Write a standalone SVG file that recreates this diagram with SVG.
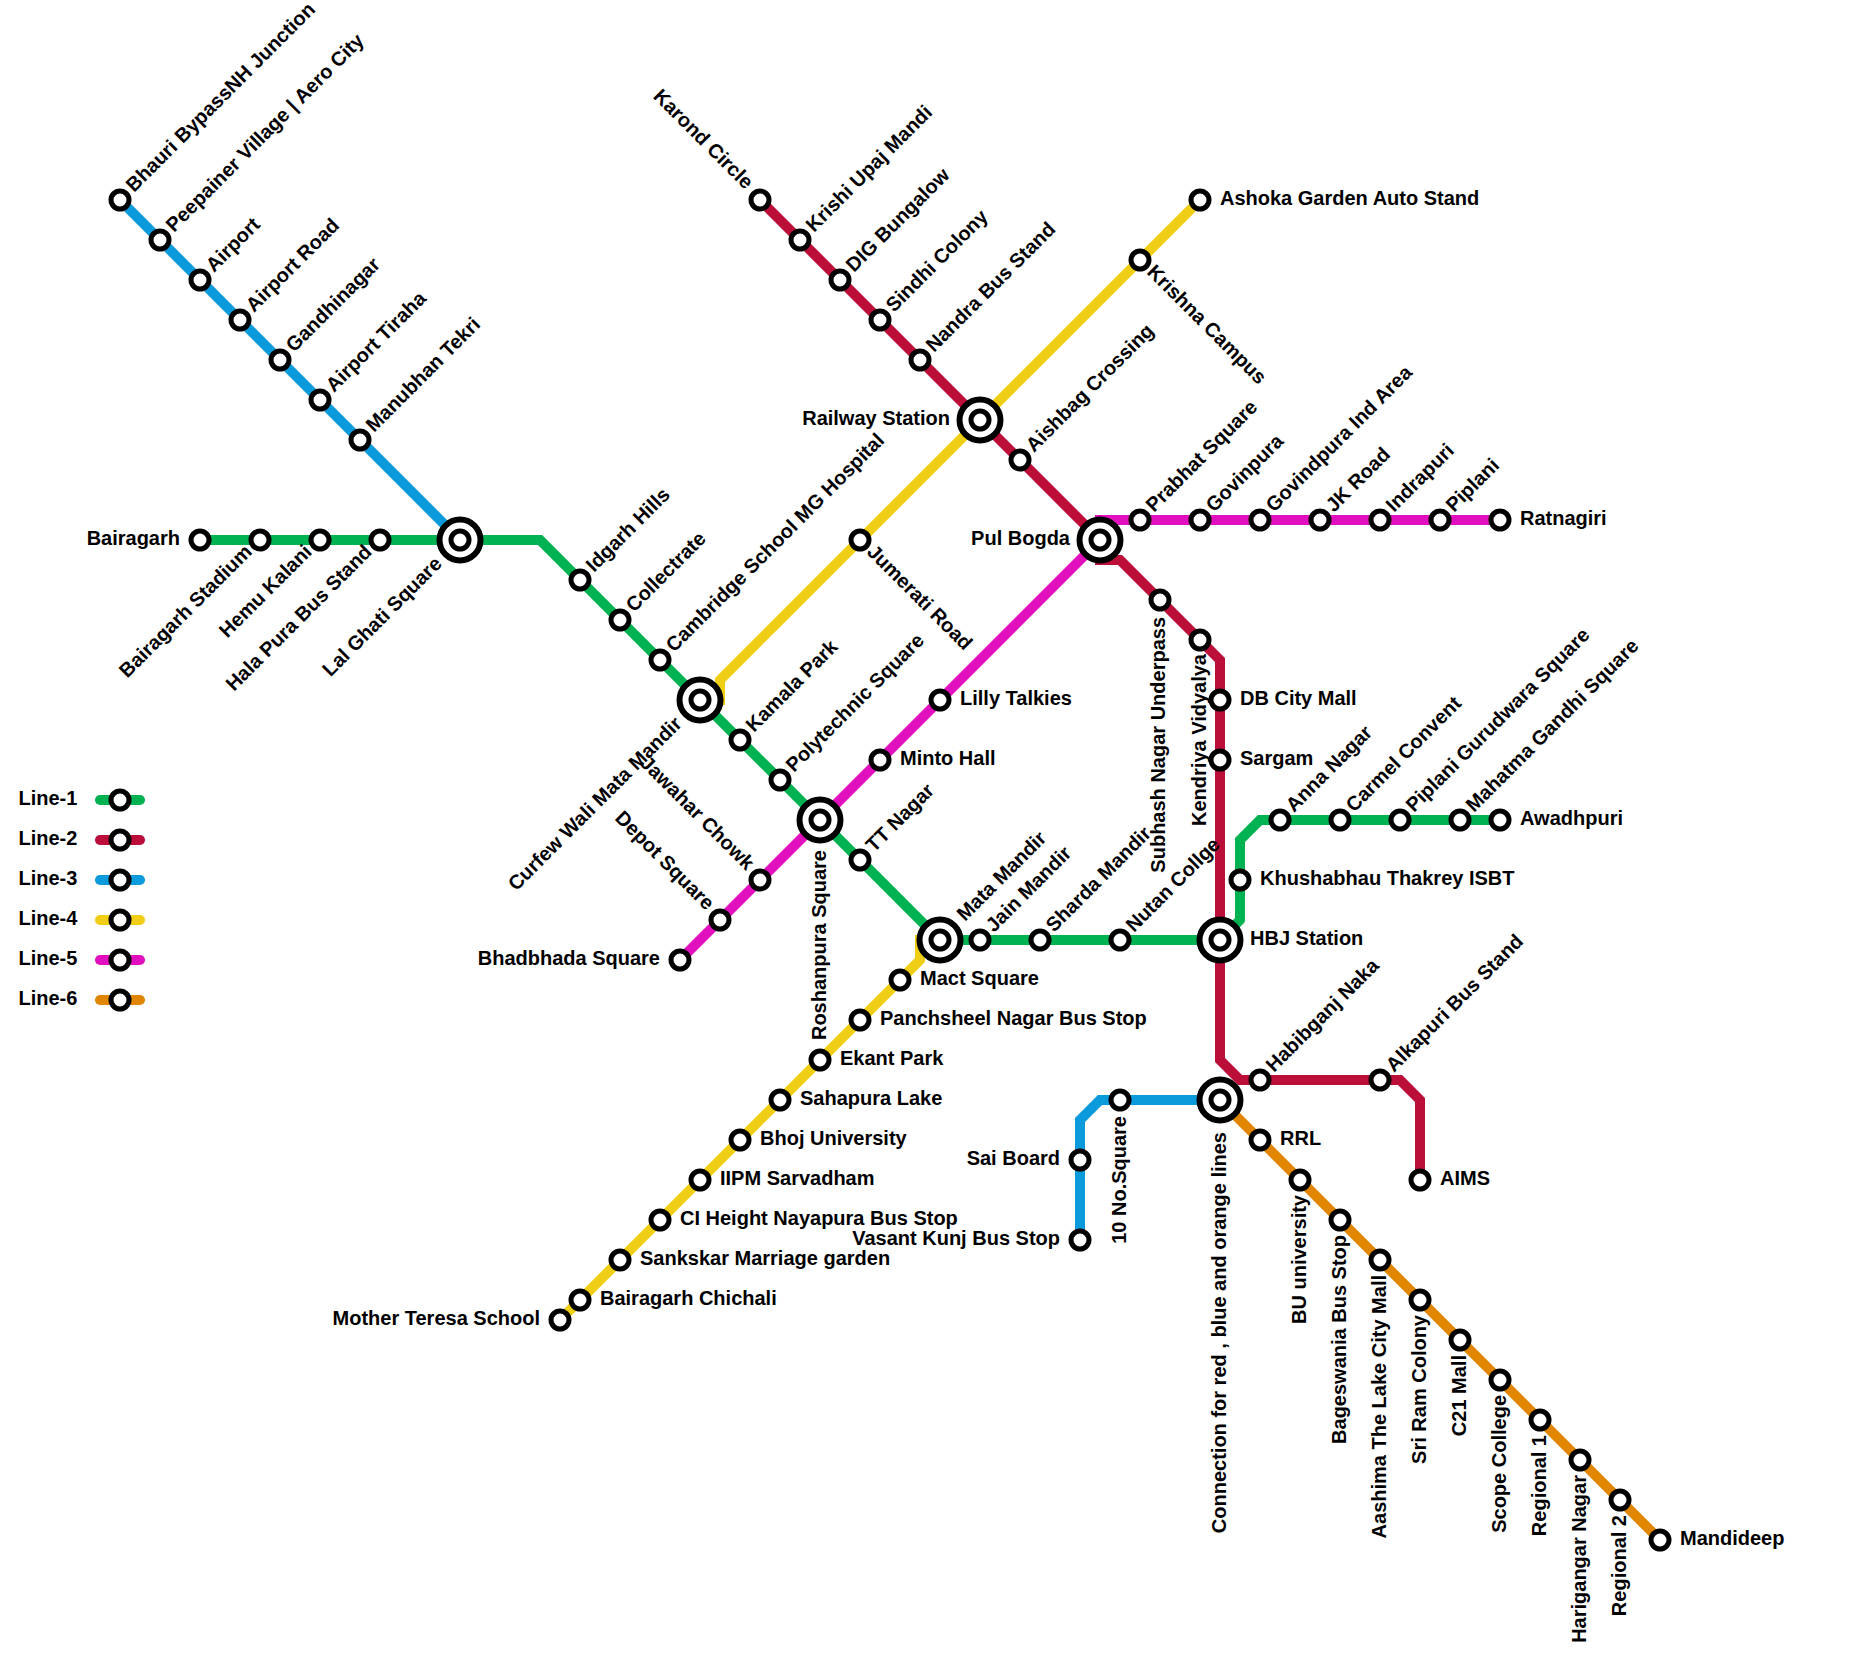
<svg xmlns="http://www.w3.org/2000/svg" width="1854" height="1666" viewBox="0 0 1854 1666">
<style>
text{font-family:"Liberation Sans",Arial,sans-serif;font-weight:700;font-size:20px;fill:#000}
.e{text-anchor:end}
.l{fill:none;stroke-width:10;stroke-linecap:round;stroke-linejoin:miter}
.c1{stroke:#00b251}.c2{stroke:#bb0f3a}.c3{stroke:#0b9bdc}.c4{stroke:#f0ce15}.c5{stroke:#e20fbe}.c6{stroke:#e08600}
.s{fill:#fff;stroke:#000;stroke-width:5}
.b{fill:#fff;stroke:#000;stroke-width:6}
</style>
<rect width="1854" height="1666" fill="#fff"/>
<g id="connectors">
<path class="l c1" d="M200 540H540L940 940H1220M1220 940L1240 920M1240 920V840L1260 820H1500"/>
<path class="l c3" d="M120 200L460 540"/>
<path class="l c3" d="M1080 1240V1120L1100 1100H1220"/>
<path class="l c4" d="M560 1320L920 960V940H940"/>
<path class="l c4" d="M700 700H720V680L1200 200"/>
<path class="l c5" d="M680 960L1100 540V520H1500"/>
<path class="l c2" d="M760 200L1100 540V560H1120L1220 660V1060L1240 1080H1400L1420 1100V1180"/>
<path class="l c6" d="M1220 1100L1660 1540"/>
</g>
<g id="legend">
<path class="l c1" d="M100 800H140"/><circle class="s" cx="120" cy="800" r="9"/><text x="18.5" y="805">Line-1</text>
<path class="l c2" d="M100 840H140"/><circle class="s" cx="120" cy="840" r="9"/><text x="18.5" y="845">Line-2</text>
<path class="l c3" d="M100 880H140"/><circle class="s" cx="120" cy="880" r="9"/><text x="18.5" y="885">Line-3</text>
<path class="l c4" d="M100 920H140"/><circle class="s" cx="120" cy="920" r="9"/><text x="18.5" y="925">Line-4</text>
<path class="l c5" d="M100 960H140"/><circle class="s" cx="120" cy="960" r="9"/><text x="18.5" y="965">Line-5</text>
<path class="l c6" d="M100 1000H140"/><circle class="s" cx="120" cy="1000" r="9"/><text x="18.5" y="1005">Line-6</text>
</g>
<g id="stations">
<g id="bhauri"><circle class="s" cx="120" cy="200" r="9"/><text transform="translate(134 193) rotate(-45)">Bhauri BypassNH Junction</text></g>
<g id="peepainer"><circle class="s" cx="160" cy="240" r="9"/><text transform="translate(174 233) rotate(-45)">Peepainer Village | Aero City</text></g>
<g id="airport"><circle class="s" cx="200" cy="280" r="9"/><text transform="translate(214 273) rotate(-45)">Airport</text></g>
<g id="airport-road"><circle class="s" cx="240" cy="320" r="9"/><text transform="translate(254 313) rotate(-45)">Airport Road</text></g>
<g id="gandhinagar"><circle class="s" cx="280" cy="360" r="9"/><text transform="translate(294 353) rotate(-45)">Gandhinagar</text></g>
<g id="airport-tiraha"><circle class="s" cx="320" cy="400" r="9"/><text transform="translate(334 393) rotate(-45)">Airport Tiraha</text></g>
<g id="manubhan"><circle class="s" cx="360" cy="440" r="9"/><text transform="translate(374 433) rotate(-45)">Manubhan Tekri</text></g>
<g id="bairagarh"><circle class="s" cx="200" cy="540" r="9"/><text class="e" x="180" y="545">Bairagarh</text></g>
<g id="bairagarh-stadium"><circle class="s" cx="260" cy="540" r="9"/><text class="e" transform="translate(253 553) rotate(-45)">Bairagarh Stadium</text></g>
<g id="hemu"><circle class="s" cx="320" cy="540" r="9"/><text class="e" transform="translate(313 553) rotate(-45)">Hemu Kalani</text></g>
<g id="halapura"><circle class="s" cx="380" cy="540" r="9"/><text class="e" transform="translate(373 553) rotate(-45)">Hala Pura Bus Stand</text></g>
<g id="lalghati"><circle class="b" cx="460" cy="540" r="20.5"/><circle class="s" cx="460" cy="540" r="9"/><text class="e" transform="translate(443 565) rotate(-45)">Lal Ghati Square</text></g>
<g id="idgarh"><circle class="s" cx="580" cy="580" r="9"/><text transform="translate(594 573) rotate(-45)">Idgarh Hills</text></g>
<g id="collectrate"><circle class="s" cx="620" cy="620" r="9"/><text transform="translate(634 613) rotate(-45)">Collectrate</text></g>
<g id="cambridge"><circle class="s" cx="660" cy="660" r="9"/><text transform="translate(674 653) rotate(-45)">Cambridge School MG Hospital</text></g>
<g id="curfew"><circle class="b" cx="700" cy="700" r="20.5"/><circle class="s" cx="700" cy="700" r="9"/><text class="e" transform="translate(683 725) rotate(-45)">Curfew Wali Mata Mandir</text></g>
<g id="kamala"><circle class="s" cx="740" cy="740" r="9"/><text transform="translate(754 733) rotate(-45)">Kamala Park</text></g>
<g id="polytechnic"><circle class="s" cx="780" cy="780" r="9"/><text transform="translate(794 773) rotate(-45)">Polytechnic Square</text></g>
<g id="roshanpura"><circle class="b" cx="820" cy="820" r="20.5"/><circle class="s" cx="820" cy="820" r="9"/><text class="e" transform="translate(826 850) rotate(-90)">Roshanpura Square</text></g>
<g id="ttnagar"><circle class="s" cx="860" cy="860" r="9"/><text transform="translate(874 853) rotate(-45)">TT Nagar</text></g>
<g id="mata"><circle class="b" cx="940" cy="940" r="20.5"/><circle class="s" cx="940" cy="940" r="9"/><text transform="translate(965 922) rotate(-45)">Mata Mandir</text></g>
<g id="jain"><circle class="s" cx="980" cy="940" r="9"/><text transform="translate(994 933) rotate(-45)">Jain Mandir</text></g>
<g id="sharda"><circle class="s" cx="1040" cy="940" r="9"/><text transform="translate(1054 933) rotate(-45)">Sharda Mandir</text></g>
<g id="nutan"><circle class="s" cx="1120" cy="940" r="9"/><text transform="translate(1134 933) rotate(-45)">Nutan Collge</text></g>
<g id="hbj"><circle class="b" cx="1220" cy="940" r="20.5"/><circle class="s" cx="1220" cy="940" r="9"/><text x="1250" y="945">HBJ Station</text></g>
<g id="khushabhau"><circle class="s" cx="1240" cy="880" r="9"/><text x="1260" y="885">Khushabhau Thakrey ISBT</text></g>
<g id="anna"><circle class="s" cx="1280" cy="820" r="9"/><text transform="translate(1294 813) rotate(-45)">Anna Nagar</text></g>
<g id="carmel"><circle class="s" cx="1340" cy="820" r="9"/><text transform="translate(1354 813) rotate(-45)">Carmel Convent</text></g>
<g id="piplani-g"><circle class="s" cx="1400" cy="820" r="9"/><text transform="translate(1414 813) rotate(-45)">Piplani Gurudwara Square</text></g>
<g id="mahatma"><circle class="s" cx="1460" cy="820" r="9"/><text transform="translate(1474 813) rotate(-45)">Mahatma Gandhi Square</text></g>
<g id="awadhpuri"><circle class="s" cx="1500" cy="820" r="9"/><text x="1520" y="825">Awadhpuri</text></g>
<g id="karond"><circle class="s" cx="760" cy="200" r="9"/><text class="e" transform="translate(745 190) rotate(45)">Karond Circle</text></g>
<g id="krishi"><circle class="s" cx="800" cy="240" r="9"/><text transform="translate(814 233) rotate(-45)">Krishi Upaj Mandi</text></g>
<g id="dig"><circle class="s" cx="840" cy="280" r="9"/><text transform="translate(854 273) rotate(-45)">DIG Bungalow</text></g>
<g id="sindhi"><circle class="s" cx="880" cy="320" r="9"/><text transform="translate(894 313) rotate(-45)">Sindhi Colony</text></g>
<g id="nandra"><circle class="s" cx="920" cy="360" r="9"/><text transform="translate(934 353) rotate(-45)">Nandra Bus Stand</text></g>
<g id="railway"><circle class="b" cx="980" cy="420" r="20.5"/><circle class="s" cx="980" cy="420" r="9"/><text class="e" x="950" y="425">Railway Station</text></g>
<g id="aishbag"><circle class="s" cx="1020" cy="460" r="9"/><text transform="translate(1034 453) rotate(-45)">Aishbag Crossing</text></g>
<g id="pulbogda"><circle class="b" cx="1100" cy="540" r="20.5"/><circle class="s" cx="1100" cy="540" r="9"/><text class="e" x="1070" y="545">Pul Bogda</text></g>
<g id="subhash"><circle class="s" cx="1160" cy="600" r="9"/><text class="e" transform="translate(1165 617) rotate(-90)">Subhash Nagar Underpass</text></g>
<g id="kendriya"><circle class="s" cx="1200" cy="640" r="9"/><text class="e" transform="translate(1206 654) rotate(-90)">Kendriya Vidyalya</text></g>
<g id="dbcity"><circle class="s" cx="1220" cy="700" r="9"/><text x="1240" y="705">DB City Mall</text></g>
<g id="sargam"><circle class="s" cx="1220" cy="760" r="9"/><text x="1240" y="765">Sargam</text></g>
<g id="habibganj"><circle class="s" cx="1260" cy="1080" r="9"/><text transform="translate(1274 1073) rotate(-45)">Habibganj Naka</text></g>
<g id="alkapuri"><circle class="s" cx="1380" cy="1080" r="9"/><text transform="translate(1394 1073) rotate(-45)">Alkapuri Bus Stand</text></g>
<g id="aims"><circle class="s" cx="1420" cy="1180" r="9"/><text x="1440" y="1185">AIMS</text></g>
<g id="sai"><circle class="s" cx="1080" cy="1160" r="9"/><text class="e" x="1060" y="1165">Sai Board</text></g>
<g id="vasant"><circle class="s" cx="1080" cy="1240" r="9"/><text class="e" x="1060" y="1245">Vasant Kunj Bus Stop</text></g>
<g id="tenno"><circle class="s" cx="1120" cy="1100" r="9"/><text class="e" transform="translate(1126 1116) rotate(-90)">10 No.Square</text></g>
<g id="connection"><circle class="b" cx="1220" cy="1100" r="20.5"/><circle class="s" cx="1220" cy="1100" r="9"/><text class="e" transform="translate(1226 1132) rotate(-90)">Connection for red , blue and orange lines</text></g>
<g id="rrl"><circle class="s" cx="1260" cy="1140" r="9"/><text x="1280" y="1145">RRL</text></g>
<g id="bu"><circle class="s" cx="1300" cy="1180" r="9"/><text class="e" transform="translate(1305.500 1195) rotate(-90)">BU university</text></g>
<g id="bageswania"><circle class="s" cx="1340" cy="1220" r="9"/><text class="e" transform="translate(1345.500 1235) rotate(-90)">Bageswania Bus Stop</text></g>
<g id="aashima"><circle class="s" cx="1380" cy="1260" r="9"/><text class="e" transform="translate(1385.500 1275) rotate(-90)">Aashima The Lake City Mall</text></g>
<g id="sriram"><circle class="s" cx="1420" cy="1300" r="9"/><text class="e" transform="translate(1425.500 1315) rotate(-90)">Sri Ram Colony</text></g>
<g id="c21"><circle class="s" cx="1460" cy="1340" r="9"/><text class="e" transform="translate(1465.500 1355) rotate(-90)">C21 Mall</text></g>
<g id="scope"><circle class="s" cx="1500" cy="1380" r="9"/><text class="e" transform="translate(1505.500 1395) rotate(-90)">Scope College</text></g>
<g id="regional1"><circle class="s" cx="1540" cy="1420" r="9"/><text class="e" transform="translate(1545.500 1435) rotate(-90)">Regional 1</text></g>
<g id="harigangar"><circle class="s" cx="1580" cy="1460" r="9"/><text class="e" transform="translate(1585.500 1475) rotate(-90)">Harigangar Nagar</text></g>
<g id="regional2"><circle class="s" cx="1620" cy="1500" r="9"/><text class="e" transform="translate(1625.500 1515) rotate(-90)">Regional 2</text></g>
<g id="mandideep"><circle class="s" cx="1660" cy="1540" r="9"/><text x="1680" y="1545">Mandideep</text></g>
<g id="mother"><circle class="s" cx="560" cy="1320" r="9"/><text class="e" x="540" y="1325">Mother Teresa School</text></g>
<g id="chichali"><circle class="s" cx="580" cy="1300" r="9"/><text x="600" y="1305">Bairagarh Chichali</text></g>
<g id="sankskar"><circle class="s" cx="620" cy="1260" r="9"/><text x="640" y="1265">Sankskar Marriage garden</text></g>
<g id="ciheight"><circle class="s" cx="660" cy="1220" r="9"/><text x="680" y="1225">CI Height Nayapura Bus Stop</text></g>
<g id="iipm"><circle class="s" cx="700" cy="1180" r="9"/><text x="720" y="1185">IIPM Sarvadham</text></g>
<g id="bhoj"><circle class="s" cx="740" cy="1140" r="9"/><text x="760" y="1145">Bhoj University</text></g>
<g id="sahapura"><circle class="s" cx="780" cy="1100" r="9"/><text x="800" y="1105">Sahapura Lake</text></g>
<g id="ekant"><circle class="s" cx="820" cy="1060" r="9"/><text x="840" y="1065">Ekant Park</text></g>
<g id="panchsheel"><circle class="s" cx="860" cy="1020" r="9"/><text x="880" y="1025">Panchsheel Nagar Bus Stop</text></g>
<g id="mact"><circle class="s" cx="900" cy="980" r="9"/><text x="920" y="985">Mact Square</text></g>
<g id="jumerati"><circle class="s" cx="860" cy="540" r="9"/><text transform="translate(866 553) rotate(45)">Jumerati Road</text></g>
<g id="krishna"><circle class="s" cx="1140" cy="260" r="9"/><text transform="translate(1146 273) rotate(45)">Krishna Campus</text></g>
<g id="ashoka"><circle class="s" cx="1200" cy="200" r="9"/><text x="1220" y="205">Ashoka Garden Auto Stand</text></g>
<g id="bhadbhada"><circle class="s" cx="680" cy="960" r="9"/><text class="e" x="660" y="965">Bhadbhada Square</text></g>
<g id="depot"><circle class="s" cx="720" cy="920" r="9"/><text class="e" transform="translate(706 911) rotate(45)">Depot Square</text></g>
<g id="jawahar"><circle class="s" cx="760" cy="880" r="9"/><text class="e" transform="translate(746 871) rotate(45)">Jawahar Chowk</text></g>
<g id="minto"><circle class="s" cx="880" cy="760" r="9"/><text x="900" y="765">Minto Hall</text></g>
<g id="lilly"><circle class="s" cx="940" cy="700" r="9"/><text x="960" y="705">Lilly Talkies</text></g>
<g id="prabhat"><circle class="s" cx="1140" cy="520" r="9"/><text transform="translate(1154 513) rotate(-45)">Prabhat Square</text></g>
<g id="govinpura"><circle class="s" cx="1200" cy="520" r="9"/><text transform="translate(1214 513) rotate(-45)">Govinpura</text></g>
<g id="govindpura"><circle class="s" cx="1260" cy="520" r="9"/><text transform="translate(1274 513) rotate(-45)">Govindpura Ind Area</text></g>
<g id="jkroad"><circle class="s" cx="1320" cy="520" r="9"/><text transform="translate(1334 513) rotate(-45)">JK Road</text></g>
<g id="indrapuri"><circle class="s" cx="1380" cy="520" r="9"/><text transform="translate(1394 513) rotate(-45)">Indrapuri</text></g>
<g id="piplani"><circle class="s" cx="1440" cy="520" r="9"/><text transform="translate(1454 513) rotate(-45)">Piplani</text></g>
<g id="ratnagiri"><circle class="s" cx="1500" cy="520" r="9"/><text x="1520" y="525">Ratnagiri</text></g>
</g>
</svg>
